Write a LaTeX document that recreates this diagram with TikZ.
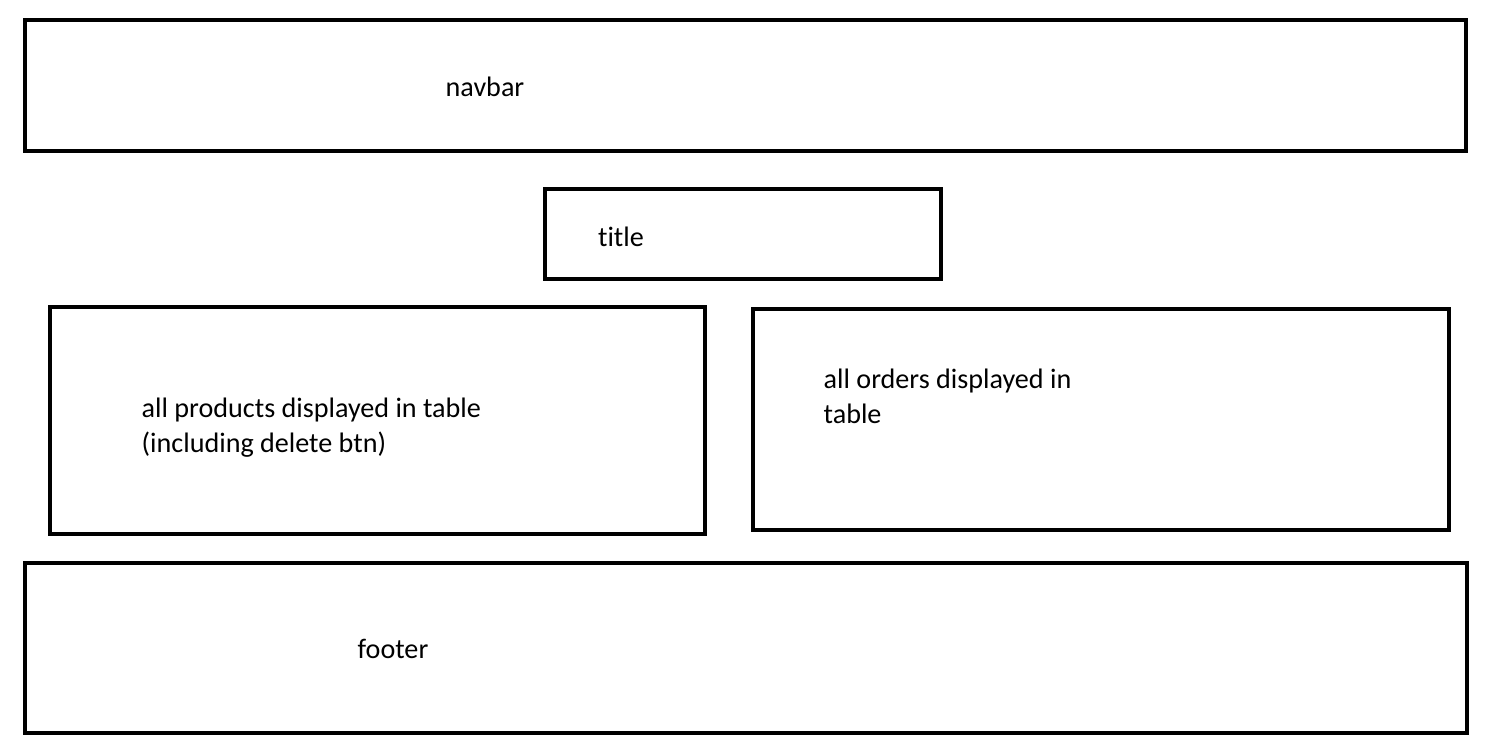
\documentclass[tikz,border=0pt]{standalone}
\usepackage{fontspec}
\setmainfont[Ligatures=NoCommon]{Carlito}
\tikzset{
  box/.style={draw, line width=1.15pt, inner sep=0pt},
  lbl/.style={font=\fontsize{8}{10}\selectfont, inner sep=0pt, align=left}
}
\begin{document}
\begin{tikzpicture}[x=0.01cm, y=-0.01cm]
            \useasboundingbox (0,0) rectangle (1499,753);
            % page blocks
            \node[box, minimum width=14.41cm, minimum height=1.31cm] (navbar) at (745.5,85.5) {};
            \node[box, minimum width=3.96cm, minimum height=0.90cm] (title) at (743,234) {};
            \node[box, minimum width=6.55cm, minimum height=2.27cm] (products) at (377.5,420.5) {};
            \node[box, minimum width=6.96cm, minimum height=2.21cm] (orders) at (1101,419.5) {};
            \node[box, minimum width=14.42cm, minimum height=1.70cm] (footer) at (746,648) {};
            % texts
            \node[lbl] (navbartext) at (485,87) {navbar};
            \node[lbl] (titletext) at (621,237) {title};
            \node[lbl, anchor=west] (productstext) at (141,428) {all products displayed in table\\(including delete btn)};
            \node[lbl, anchor=west] (orderstext) at (823,396) {all orders displayed in\\table};
            \node[lbl] (footertext) at (393,649) {footer};
\end{tikzpicture}
\end{document}
